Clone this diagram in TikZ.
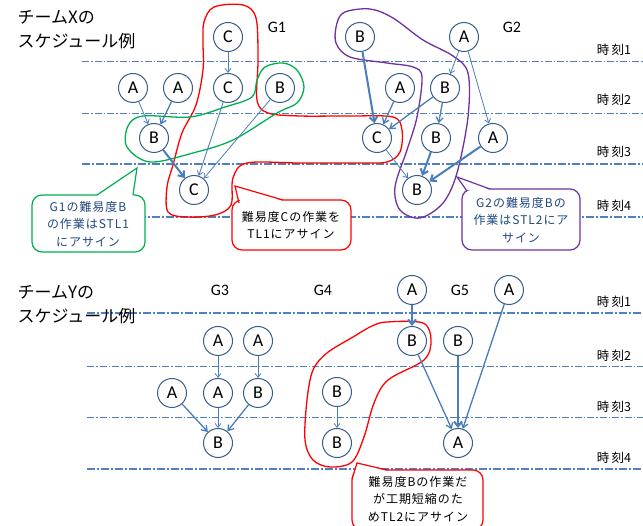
\documentclass[tikz,border=0pt]{standalone}
\usepackage{fontspec}
\setmainfont{Carlito}
\newfontfamily\jp{Noto Sans CJK JP}
\newfontfamily\jpw[LetterSpace=8]{Noto Sans CJK JP}
\usetikzlibrary{arrows.meta}
\definecolor{linecol}{RGB}{79,129,189}
\definecolor{nodecol}{RGB}{56,93,138}
\definecolor{arrowcol}{RGB}{74,126,187}
\definecolor{txtblue}{RGB}{31,73,125}
\definecolor{grn}{RGB}{0,176,80}
\definecolor{rd}{RGB}{255,0,0}
\definecolor{purp}{RGB}{112,48,160}
\begin{document}
\begin{tikzpicture}[x=1pt,y=-1pt,
  task/.style={circle,draw=nodecol,line width=1pt,fill=white,minimum size=29pt,inner sep=0pt,font=\fontsize{18}{18}\selectfont},
  athin/.style={draw=arrowcol,line width=0.8pt,-{Straight Barb[length=4pt,width=6pt]}},
  amed/.style={draw=arrowcol,line width=1.3pt,-{Straight Barb[length=5pt,width=7pt]}},
  athick/.style={draw=arrowcol,line width=2pt,-{Straight Barb[length=5pt,width=8pt]}},
  tline/.style={draw=linecol,line width=0.8pt,dash pattern=on 7pt off 2pt on 1.5pt off 2pt},
  tlinebold/.style={draw=linecol,line width=1.8pt,dash pattern=on 8pt off 2pt on 2pt off 2pt},
  title/.style={font=\jp\fontsize{17}{24}\selectfont,align=left,anchor=west},
  tlabel/.style={font=\jp\fontsize{12.5}{14}\selectfont},
  glabel/.style={font=\fontsize{16}{16}\selectfont},
  blob/.style={line width=1.3pt},
  ctext/.style={font=\jpw\fontsize{12}{17.5}\selectfont,align=center}
]
\useasboundingbox (0,0) rectangle (643,526);

% ---------- time lines ----------
\draw[tline] (82,61) -- (643,61);
\draw[tline] (82,113) -- (643,113);
\draw[tlinebold] (82,164) -- (643,164);
\draw[tlinebold] (82,217) -- (643,217);
\draw[tlinebold] (87,313) -- (643,313);
\draw[tline] (87,366) -- (643,366);
\draw[tline] (87,417) -- (643,417);
\draw[tlinebold] (87,469) -- (643,469);

\node[tlabel] (t1) at (614,50) {時\,刻1};
\node[tlabel] (t2) at (614,100) {時\,刻2};
\node[tlabel] (t3) at (614,152) {時\,刻3};
\node[tlabel] (t4) at (614,206) {時\,刻4};
\node[tlabel] (u1) at (614,302) {時\,刻1};
\node[tlabel] (u2) at (614,356) {時\,刻2};
\node[tlabel] (u3) at (614,407) {時\,刻3};
\node[tlabel] (u4) at (614,458) {時\,刻4};

% ---------- titles ----------
\node[title] (tx) at (14,30) {チームXの\\スケジュール例};
\node[title] (ty) at (14,305) {チームYの\\スケジュール例};
\node[glabel] (g1) at (277,27) {G1};
\node[glabel] (g2) at (512,27) {G2};
\node[glabel] (g3) at (220,290) {G3};
\node[glabel] (g4) at (323,290) {G4};
\node[glabel] (g5) at (460,290) {G5};

% ---------- blobs (top) ----------
\draw[blob,rd] plot[smooth cycle,tension=0.55] coordinates {
 (204,22) (214,7) (243,5) (256,18) (258,60) (257,100) (268,113) (300,116)
 (350,116) (393,117) (402,130) (400,152) (387,162) (360,163) (300,163)
 (247,163) (233,178) (231,205) (215,215) (187,217) (168,212) (167,187)
 (173,165) (182,133) (196,105) (203,70) (203,42)};
\draw[blob,grn] plot[smooth cycle,tension=0.55] coordinates {
 (304,87) (297,70) (283,63) (265,67) (257,80) (252,97) (225,107) (190,117)
 (143,116) (128,126) (127,147) (150,162) (193,153) (233,140) (277,113) (297,103)};
\draw[blob,purp] plot[smooth cycle,tension=0.55] coordinates {
 (337,23) (345,12) (370,9) (393,18) (423,40) (453,56) (468,73) (468,117)
 (457,173) (443,203) (420,218) (400,210) (395,187) (407,150) (417,117)
 (422,77) (413,67) (387,63) (350,57) (336,43)};

% ---------- nodes G1 ----------
\node[task] (c1) at (228,37) {C};
\node[task] (a1) at (133,88) {A};
\node[task] (a2) at (178,88) {A};
\node[task] (c2) at (228,88) {C};
\node[task] (b1) at (280,88) {B};
\node[task] (b2) at (154,138) {B};
\node[task] (c3) at (194,190) {C};
\draw[athin] (c1) -- (c2);
\draw[athin] (a1) -- (b2);
\draw[amed] (a2) -- (b2);
\draw[athin] (c2) -- (c3);
\draw[athin] (b1) -- (c3);
\draw[athick] (b2) -- (c3);

% ---------- nodes G2 ----------
\node[task] (hb1) at (360,37) {B};
\node[task] (ha1) at (464,37) {A};
\node[task] (ha2) at (400,88) {A};
\node[task] (hb2) at (445,88) {B};
\node[task] (hc1) at (377,138) {C};
\node[task] (hb3) at (436,138) {B};
\node[task] (ha3) at (493,138) {A};
\node[task] (hb4) at (417,190) {B};
\draw[athick] (hb1) -- (hc1);
\draw[amed] (ha2) -- (hc1);
\draw[amed] (hb2) -- (hc1);
\draw[amed] (hb2) -- (hb3);
\draw[athin] (ha1) -- (hb2);
\draw[athin] (ha1) -- (ha3);
\draw[athin] (hc1) -- (hb4);
\draw[athick] (hb3) -- (hb4);
\draw[athick] (ha3) -- (hb4);

% ---------- callouts (top) ----------
\draw[grn,line width=1.2pt,fill=white,rounded corners=10pt] (32,195) rectangle (145,252);
\fill[white] (97,196) -- (137,168) -- (133,196) -- cycle;
\draw[grn,line width=1.2pt] (97,195) -- (137,168) -- (133,195);
\node[ctext,text=txtblue] (n1) at (88,224) {G1の難易度B\\の作業はSTL1\\にアサイン};

\draw[rd,line width=1.2pt,fill=white,rounded corners=10pt] (232,200) rectangle (351,250);
\fill[white] (240,201) -- (235,186) -- (283,201) -- cycle;
\draw[rd,line width=1.2pt] (239,203) -- (235,186) -- (283,200);
\node[ctext] (n2) at (291,225) {難易度Cの作業を\\TL1にアサイン};

\draw[purp,line width=1.2pt,fill=white,rounded corners=10pt] (462,189) rectangle (580,250);
\fill[white] (467,190) -- (457,177) -- (490,190) -- cycle;
\draw[purp,line width=1.2pt] (467,191) -- (457,177) -- (490,189);
\node[ctext,text=txtblue] (n3) at (521,220) {G2の難易度Bの\\作業はSTL2にア\\サイン};

% ---------- blob (bottom) ----------
\draw[blob,rd] plot[smooth cycle,tension=0.55] coordinates {
 (387,322) (423,323) (431,340) (424,360) (388,380) (374,403) (364,437)
 (352,462) (330,467) (313,460) (305,440) (307,400) (313,370) (327,353)
 (353,337) (372,326)};

% ---------- nodes G3 ----------
\node[task] (ya1) at (218,341) {A};
\node[task] (ya2) at (258,341) {A};
\node[task] (ya3) at (172,393) {A};
\node[task] (ya4) at (218,393) {A};
\node[task] (yb1) at (258,393) {B};
\node[task] (yb2) at (218,443) {B};
\draw[athin] (ya1) -- (ya4);
\draw[athin] (ya2) -- (yb1);
\draw[amed] (ya3) -- (yb2);
\draw[athin] (ya4) -- (yb2);
\draw[amed] (yb1) -- (yb2);

% ---------- nodes G4 ----------
\node[task] (zb1) at (337,392) {B};
\node[task] (zb2) at (337,443) {B};
\draw[athin] (zb1) -- (zb2);

% ---------- nodes G5 ----------
\node[task] (wa1) at (412,290) {A};
\node[task] (wa2) at (509,290) {A};
\node[task] (wb1) at (412,341) {B};
\node[task] (wb2) at (458,341) {B};
\node[task] (wa3) at (458,443) {A};
\draw[athick] (wa1) -- (wb1);
\draw[amed] (wa2) -- (wa3);
\draw[amed] (wb1) -- (wa3);
\draw[athick] (wb2) -- (wa3);

% ---------- callout (bottom) ----------
\draw[rd,line width=1.2pt,fill=white,rounded corners=10pt] (352,470) rectangle (483,530);
\fill[white] (353,478) -- (357,463) -- (387,471) -- cycle;
\draw[rd,line width=1.2pt] (352,479) -- (357,463) -- (387,470);
\node[ctext] (n4) at (418,499) {難易度Bの作業だ\\が工期短縮のた\\めTL2にアサイン};
\end{tikzpicture}
\end{document}
